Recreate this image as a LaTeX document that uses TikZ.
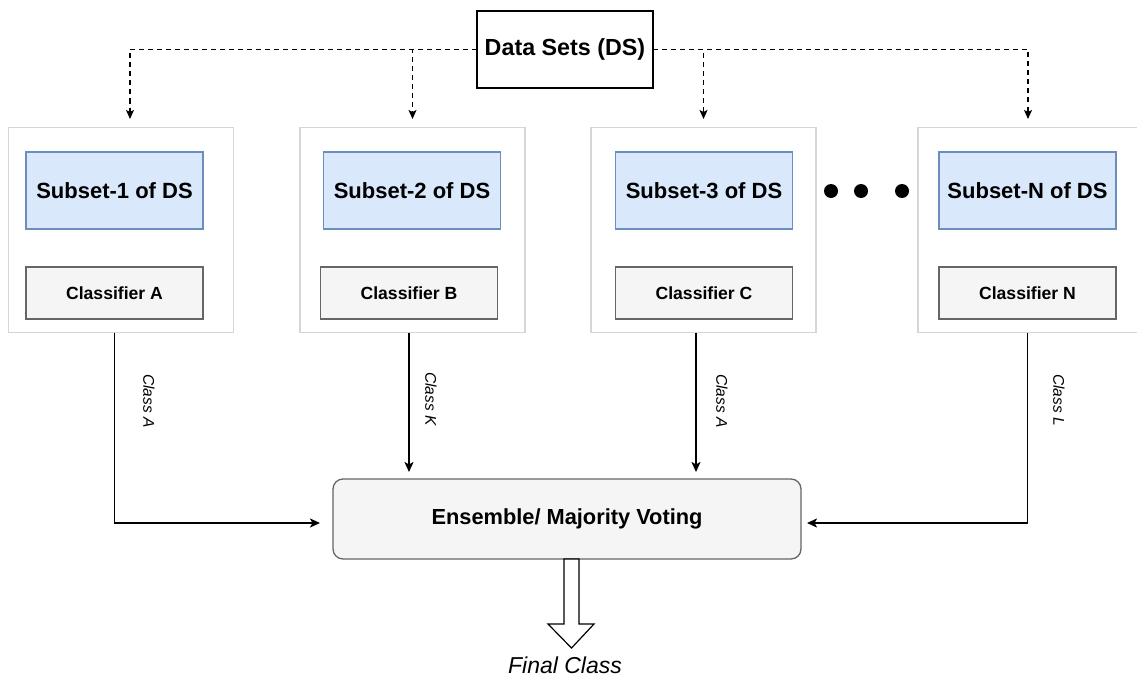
\documentclass[tikz,border=0pt]{standalone}
\usepackage{fontspec}
\setmainfont{Liberation Sans}
\usetikzlibrary{positioning,arrows.meta}
\definecolor{subfill}{HTML}{DAE8FC}
\definecolor{subline}{HTML}{6C8EBF}
\definecolor{clsfill}{HTML}{F5F5F5}
\definecolor{clsline}{HTML}{666666}
\definecolor{grpline}{HTML}{D6D6D6}

\begin{document}
\begin{tikzpicture}[x=1pt, y=-1pt,
  every node/.style={inner sep=0pt, outer sep=0pt},
  grp/.style={draw=grpline, line width=1.5pt, fill=white, minimum width=225pt, minimum height=205pt},
  subset/.style={draw=subline, line width=1.3pt, fill=subfill, minimum width=177pt, minimum height=77pt,
    font=\fontsize{22}{26}\selectfont\bfseries},
  clsbox/.style={draw=clsline, line width=1.3pt, fill=clsfill, minimum width=177pt, minimum height=52pt,
    font=\fontsize{17.6}{21}\selectfont\bfseries},
  vote/.style={draw=clsline, line width=1.3pt, fill=clsfill, rounded corners=10pt, minimum width=468pt,
    minimum height=80pt, font=\fontsize{21.8}{26}\selectfont\bfseries},
  dsbox/.style={draw, line width=1.4pt, fill=white, minimum width=176pt, minimum height=77pt,
    font=\fontsize{23.3}{28}\selectfont\bfseries},
  lbl/.style={rotate=-90, font=\fontsize{15.5}{18}\selectfont\itshape},
  dot/.style={circle, fill=black, minimum size=14pt},
  dasharr/.style={dashed, dash pattern=on 5pt off 4pt, line width=1.3pt, shorten >=8.5pt,
    -{Stealth[length=9pt, width=8pt, inset=2pt]}},
  arr/.style={line width=1.8pt, -{Stealth[length=10pt, width=9pt, inset=2.5pt]}}]
  \useasboundingbox (0,0) rectangle (1137,677);

  % Conjunto de datos
  \node[dsbox] (ds) at (565,49.5) {Data Sets (DS)};

  % Grupos
  \node[grp] (g1) at (121,230) {};
  \node[grp] (g2) at (412.5,230) {};
  \node[grp] (g3) at (703.5,230) {};
  \node[grp, minimum width=220pt] (g4) at (1028,230) {};

  % Subconjuntos
  \node[subset] (sub1) at (114.5,190.5) {Subset-1 of DS};
  \node[subset] (sub2) at (412,190.5) {Subset-2 of DS};
  \node[subset] (sub3) at (704,190.5) {Subset-3 of DS};
  \node[subset] (sub4) at (1027.5,190.5) {Subset-N of DS};

  % Clasificadores
  \node[clsbox] (cls1) at (114.5,293) {Classifier A};
  \node[clsbox] (cls2) at (409,293) {Classifier B};
  \node[clsbox] (cls3) at (704,293) {Classifier C};
  \node[clsbox] (cls4) at (1027.5,293) {Classifier N};

  % Puntos
  \node[dot] (d1) at (831,191) {};
  \node[dot] (d2) at (861,191) {};
  \node[dot] (d3) at (902,191) {};

  % Votacion
  \node[vote] (ens) at (567,519) {Ensemble/ Majority Voting};

  % Etiquetas
  \node[lbl] (l1) at (149,401) {Class A};
  \node[lbl] (l2) at (431,399) {Class K};
  \node[lbl] (l3) at (722,401) {Class A};
  \node[lbl] (l4) at (1059,400) {Class L};

  % Flechas
  \draw[dasharr] (ds.west) -| ([xshift=9pt]g1.north);
  \draw[dasharr] (ds.west) -| (g2.north);
  \draw[dasharr] (ds.east) -| (g3.north);
  \draw[dasharr] (ds.east) -| (g4.north);

  \draw[arr, shorten >=13pt] (cls1 |- g1.south) |- ([yshift=-4pt]ens.west);
  \draw[arr, shorten >=7pt] (cls2 |- g2.south) -- (cls2 |- ens.north);
  \draw[arr, shorten >=7pt] ([xshift=-8pt]cls3.south |- g3.south) -- ([xshift=-8pt]cls3.south |- ens.north);
  \draw[arr, shorten >=6pt] (sub4 |- g4.south) |- ([yshift=-4pt]ens.east);

  % Salida
  \draw[line width=1.2pt, fill=white] ([xshift=-3pt]ens.south) -- ++(0,65) -- ++(-16,0) -- ++(23.5,24)
    -- ++(22.5,-24) -- ++(-15,0) -- ++(0,-65) -- cycle;
  \node[anchor=base, font=\fontsize{23}{28}\selectfont\itshape] (final) at (565,673) {Final Class};
\end{tikzpicture}
\end{document}
